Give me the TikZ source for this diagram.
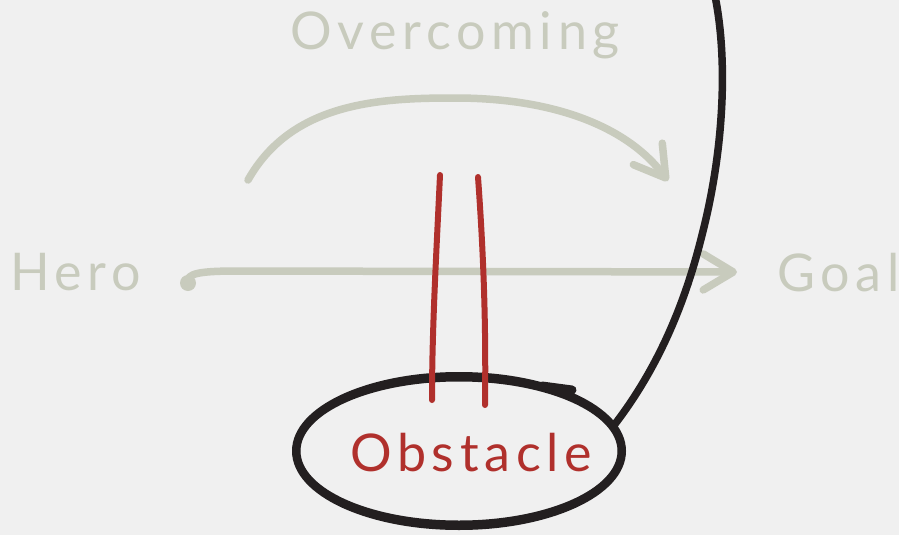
\documentclass[tikz,border=0pt]{standalone}
\usepackage{fontspec}
\setmainfont[LetterSpace=11]{Lato}
\usetikzlibrary{arrows.meta,shapes.geometric}
\definecolor{bg}{HTML}{F0F0F0}
\definecolor{sage}{HTML}{C8CBBD}
\definecolor{brick}{HTML}{B0302C}
\definecolor{ink}{HTML}{231F20}
\begin{document}
\begin{tikzpicture}[x=1pt,y=-1pt,line cap=round,line join=round,
  lbl/.style={font=\fontsize{52}{60}\selectfont,inner sep=0pt,anchor=base west},
  sagetext/.style={lbl,text=sage},
  sageline/.style={draw=sage,line width=7.5pt},
  chev/.style={-{Straight Barb[length=30pt,width=36pt,line cap=round,line join=round]}},
  redline/.style={draw=brick,line width=6pt},
  inkline/.style={draw=ink,line width=7.5pt}]
\fill[bg] (0,0) rectangle (899,535);
\useasboundingbox (0,0) rectangle (899,535);

% labels
\node[sagetext] (over) at (290,50) {Overcoming};
\node[sagetext] (hero) at (10,290) {Hero};
\node[sagetext] (goal) at (777,291) {Goal};

% coordinates for connectors
\coordinate (hstart) at (188,283);
\coordinate (htip) at (737,272);
\coordinate (cstart) at (248,180);
\coordinate (ctip) at (668,181);

% curved arrow
\draw[sageline,chev] (cstart) .. controls (292,102) and (380,98) .. (455,98)
   .. controls (560,98) and (630,130) .. (ctip);
% straight arrow
\fill[sage] (hstart) circle (8pt);
\draw[sageline,chev] (hstart) .. controls (186,273) and (200,271) .. (240,271) -- (htip);

% obstacle ellipse
\node[ellipse,draw=ink,line width=8pt,minimum width=326pt,minimum height=150pt,inner sep=0pt] (ell) at (459,451) {};
\draw[ink,line width=3pt] (459,451) ellipse [x radius=160pt,y radius=71pt];
\draw[ink,line width=9pt] (542,386) -- (572,390);
\node[lbl,text=brick] (obst) at (350,471) {Obstacle};

% red bars
\draw[redline] (440,175) .. controls (436,260) and (432,330) .. (432,400);
\draw[redline] (478,177) .. controls (484,260) and (486,330) .. (485,405);

% black line
\coordinate (top) at (715,-4);
\draw[inkline] (top) .. controls (728,60) and (724,150) .. (702,235)
   .. controls (686,300) and (660,365) .. (ell.10);
\end{tikzpicture}
\end{document}
